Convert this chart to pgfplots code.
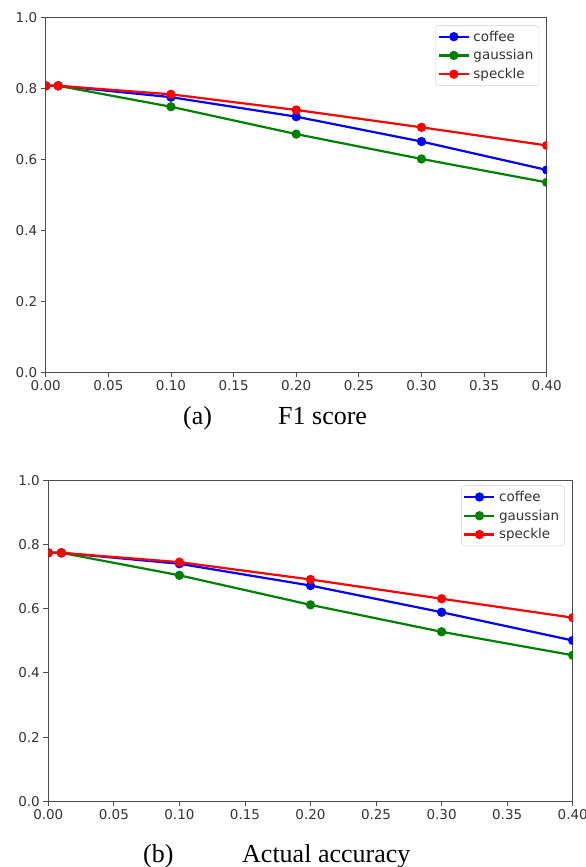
\documentclass[border=0pt]{standalone}
\usepackage{fontspec}
\setmainfont{DejaVu Sans}
\newfontfamily\capfont{Liberation Serif}
\usepackage{pgfplots}
\pgfplotsset{compat=1.18}

\definecolor{mplblue}{rgb}{0,0,1}
\definecolor{mplgreen}{rgb}{0,0.5,0}
\definecolor{mplred}{rgb}{1,0,0}

\pgfplotsset{
  noiseplot/.style={
    scale only axis,
    xmin=0, xmax=0.4, ymin=0, ymax=1,
    xtick={0,0.05,0.1,0.15,0.2,0.25,0.3,0.35,0.4},
    ytick={0,0.2,0.4,0.6,0.8,1},
    tick align=outside,
    tick pos=left,
    major tick length=5pt,
    every tick/.style={black!70, line width=0.8pt},
    axis line style={black!70, line width=0.8pt},
    /pgf/number format/assume math mode=true,
    xticklabel style={/pgf/number format/.cd, fixed, fixed zerofill, precision=2},
    yticklabel style={/pgf/number format/.cd, fixed, fixed zerofill, precision=1},
    tick label style={font=\fontsize{13.5}{16}\selectfont, text=black!80},
    clip marker paths=true,
    legend cell align=left,
    legend image code/.code={
      \draw[mark repeat=2, mark phase=2] plot coordinates {(0pt,0pt) (15pt,0pt) (30pt,0pt)};
    },
    legend style={anchor=north east, draw=black!20, rounded corners=3pt,
      fill=white, font=\fontsize{13.5}{16}\selectfont, text=black!80,
      nodes={inner sep=3.5pt}, inner sep=2pt,
      /tikz/every even column/.append style={column sep=4pt}},
    every axis plot/.append style={line width=2.2pt, mark=*, mark size=3.5pt},
  }
}

\begin{document}
\begin{tikzpicture}[x=1pt, y=1pt]
\useasboundingbox (0,0) rectangle (586,867);

% (a) F1 score
\begin{axis}[noiseplot,
  at={(45.7pt,494.7pt)}, anchor=south west,
  width=501pt, height=355pt,
  legend style={at={(0.985,0.978)}},
]
\addplot[mplblue] coordinates {(0,0.807)(0.01,0.807)(0.1,0.775)(0.2,0.720)(0.3,0.650)(0.4,0.570)};
\addlegendentry{coffee}
\addplot[mplgreen] coordinates {(0,0.807)(0.01,0.807)(0.1,0.748)(0.2,0.671)(0.3,0.601)(0.4,0.535)};
\addlegendentry{gaussian}
\addplot[mplred] coordinates {(0,0.807)(0.01,0.807)(0.1,0.783)(0.2,0.739)(0.3,0.690)(0.4,0.639)};
\addlegendentry{speckle}
\end{axis}

% (b) Actual accuracy
\begin{axis}[noiseplot,
  at={(48.3pt,65.7pt)}, anchor=south west,
  width=524.4pt, height=321pt,
  legend style={at={(0.985,0.984)}},
]
\addplot[mplblue] coordinates {(0,0.774)(0.01,0.774)(0.1,0.740)(0.2,0.672)(0.3,0.589)(0.4,0.501)};
\addlegendentry{coffee}
\addplot[mplgreen] coordinates {(0,0.774)(0.01,0.774)(0.1,0.704)(0.2,0.612)(0.3,0.528)(0.4,0.455)};
\addlegendentry{gaussian}
\addplot[mplred] coordinates {(0,0.774)(0.01,0.774)(0.1,0.745)(0.2,0.691)(0.3,0.631)(0.4,0.572)};
\addlegendentry{speckle}
\end{axis}

% captions
\node[anchor=base west, inner sep=0pt, font=\capfont\fontsize{26}{30}\selectfont] at (183,442) {(a)};
\node[anchor=base west, inner sep=0pt, font=\capfont\fontsize{26}{30}\selectfont] at (278,442) {F1 score};
\node[anchor=base west, inner sep=0pt, font=\capfont\fontsize{26}{30}\selectfont] at (143,5) {(b)};
\node[anchor=base west, inner sep=0pt, font=\capfont\fontsize{26}{30}\selectfont] at (242,5) {Actual accuracy};
\end{tikzpicture}
\end{document}
